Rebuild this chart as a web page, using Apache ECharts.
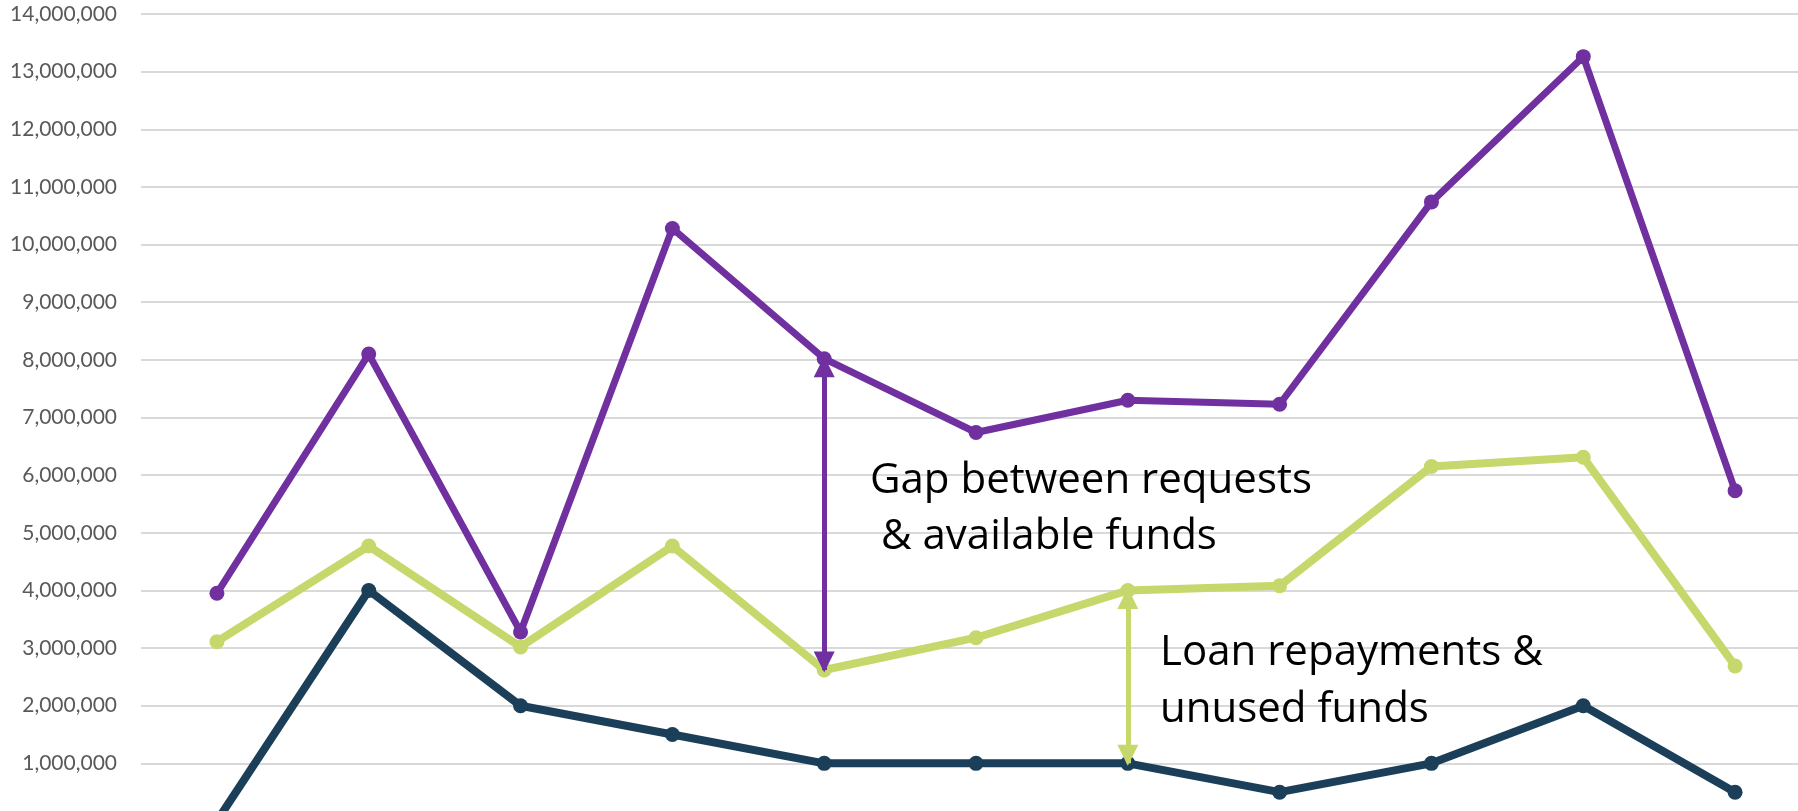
<!DOCTYPE html>
<html>
<head>
<meta charset="utf-8">
<script src="https://cdn.jsdelivr.net/npm/echarts@6/dist/echarts.min.js"></script>
<style>
  html, body { margin: 0; padding: 0; background: #ffffff; overflow: hidden; }
  /* plot runs a little past the visible window on the right and bottom */
  #chart { width: 1840px; height: 850px; }
</style>
</head>
<body>
<div id="chart"></div>
<script>
// Funding rounds, one point per round
const rounds = ['R1', 'R2', 'R3', 'R4', 'R5', 'R6', 'R7', 'R8', 'R9', 'R10', 'R11'];
// Amount requested by applicants
const requested = [3950000, 8100000, 3280000, 10280000, 8020000, 6740000, 7300000, 7230000, 10740000, 13260000, 5730000];
// Funds available for lending
const available = [3110000, 4770000, 3020000, 4770000, 2620000, 3180000, 4000000, 4080000, 6150000, 6310000, 2690000];
// New money put into the pool
const newFunds = [0, 4000000, 2000000, 1500000, 1000000, 1000000, 1000000, 500000, 1000000, 2000000, 500000];
// Y axis ticks
const yMin = 0, yMax = 14000000, yStep = 1000000;

// Indices where the two brackets are drawn
const gapAt = 4;
const loanAt = 6;

const PURPLE = '#7030A0';
const GREEN = '#C6D86B';
const NAVY = '#1B3F58';

const chart = echarts.init(document.getElementById('chart'), null, { renderer: 'canvas' });

// Double-headed bracket between two values at one category;
// heads are pulled back so their tips rest on the marker edges
function bracket(color, idx, top, bottom) {
  return {
    silent: true,
    symbol: ['triangle', 'triangle'],
    symbolSize: 21,
    symbolOffset: [[0, 8], [0, 8]],
    label: { show: false },
    emphasis: { disabled: true },
    lineStyle: { color: color, width: 5, type: 'solid', opacity: 1 },
    data: [[{ coord: [idx, top] }, { coord: [idx, bottom] }]]
  };
}

function lineSeries(name, data, color, width, extra) {
  return Object.assign({
    name: name,
    type: 'line',
    data: data,
    symbol: 'circle',
    symbolSize: 15,
    showSymbol: true,
    lineStyle: { color: color, width: width },
    itemStyle: { color: color },
    animation: false
  }, extra || {});
}

const labelFont = '42px "Open Sans"';

chart.setOption({
  backgroundColor: '#ffffff',
  animation: false,
  grid: { left: 141, top: 14, width: 1670, height: 807, containLabel: false },
  xAxis: {
    type: 'category',
    data: rounds,
    boundaryGap: true,
    axisLine: { show: false },
    axisTick: { show: false },
    axisLabel: { show: false },
    splitLine: { show: false }
  },
  yAxis: {
    type: 'value',
    min: yMin,
    max: yMax,
    interval: yStep,
    axisLine: { show: false },
    axisTick: { show: false },
    axisLabel: {
      margin: 24,
      color: '#595959',
      fontFamily: 'Lato',
      fontSize: 21,
      formatter: v => v.toLocaleString('en-US')
    },
    splitLine: { lineStyle: { color: '#D9D9D9', width: 2 } }
  },
  series: [
    lineSeries('New funds', newFunds, NAVY, 8, { z: 2 }),
    lineSeries('Available funds', available, GREEN, 8, {
      z: 3,
      markLine: bracket(GREEN, loanAt, available[loanAt], newFunds[loanAt])
    }),
    lineSeries('Requested', requested, PURPLE, 7, {
      z: 4,
      markLine: bracket(PURPLE, gapAt, requested[gapAt], available[gapAt])
    })
  ],
  graphic: [
    { type: 'text', left: 870, top: 460, z: 100,
      style: { text: 'Gap between requests', font: labelFont, fill: '#000000' } },
    { type: 'text', left: 881, top: 516, z: 100,
      style: { text: '& available funds', font: labelFont, fill: '#000000' } },
    { type: 'text', left: 1160, top: 632, z: 100,
      style: { text: 'Loan repayments &', font: labelFont, fill: '#000000' } },
    { type: 'text', left: 1160, top: 689, z: 100,
      style: { text: 'unused funds', font: labelFont, fill: '#000000' } }
  ]
});
</script>
</body>
</html>
